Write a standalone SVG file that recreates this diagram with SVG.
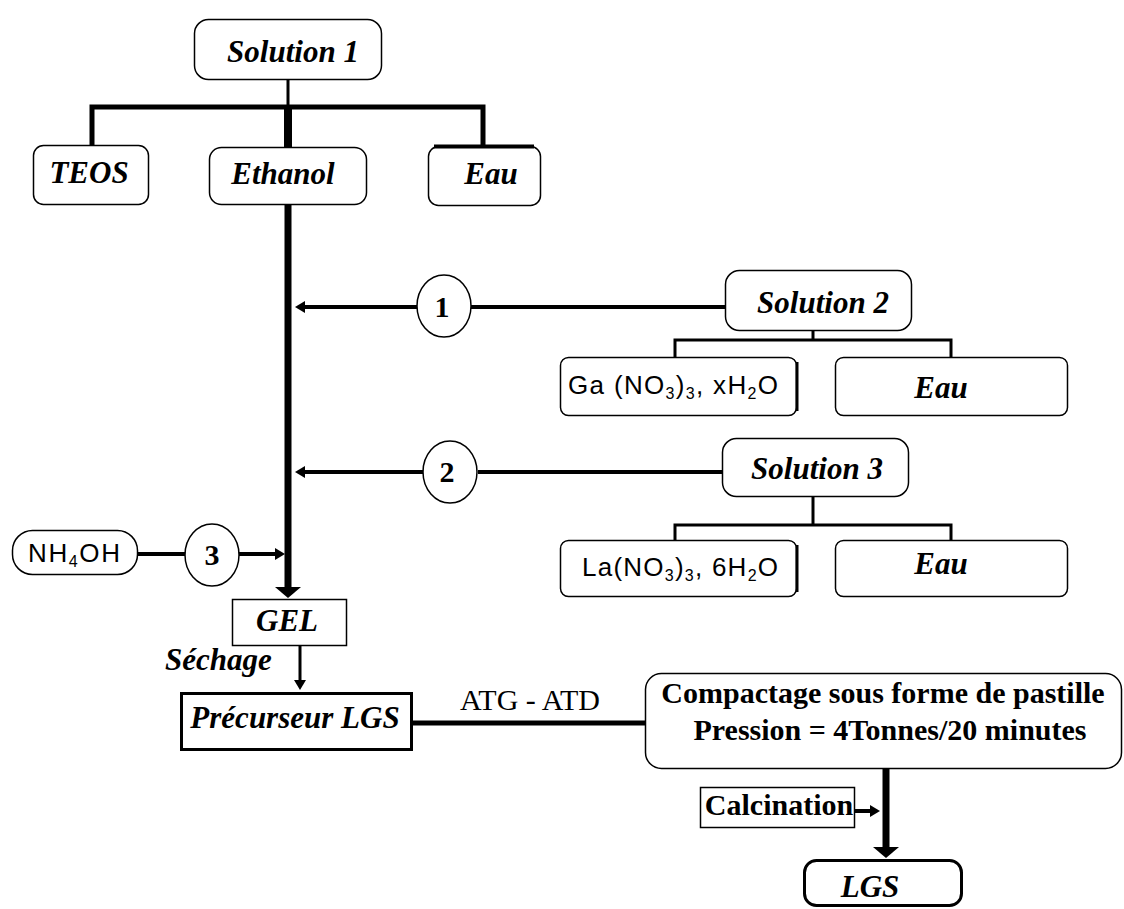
<svg xmlns="http://www.w3.org/2000/svg" width="1124" height="909" viewBox="0 0 1124 909">
<defs>
<style>
.box{fill:#fff;stroke:#000;stroke-width:1.5}
.tbox{fill:#fff;stroke:#000;stroke-width:3}
.it{font-family:"Liberation Serif","Times New Roman",serif;font-weight:bold;font-style:italic;font-size:31px;fill:#000}
.ser{font-family:"Liberation Serif","Times New Roman",serif;font-size:30px;fill:#000}
.serb{font-family:"Liberation Serif","Times New Roman",serif;font-weight:bold;font-size:30px;fill:#000}
.sans{font-family:"Liberation Sans",Arial,sans-serif;font-size:26px;fill:#000}
.sub{font-size:16px}
.ln{fill:none;stroke:#000;stroke-linecap:butt;stroke-linejoin:miter}
.circ{fill:#fff;stroke:#000;stroke-width:1.5}
</style>
<marker id="arS" viewBox="0 0 10 12" refX="0" refY="6" markerWidth="10" markerHeight="12" markerUnits="userSpaceOnUse" orient="auto"><path d="M0,0 L10,6 L0,12 z" fill="#000"/></marker>
<marker id="arL" viewBox="0 0 11 26" refX="0" refY="13" markerWidth="11" markerHeight="26" markerUnits="userSpaceOnUse" orient="auto"><path d="M0,0 L11,13 L0,26 z" fill="#000"/></marker>
</defs>
<rect width="1124" height="909" fill="#fff"/>

<g id="connectors">
<path class="ln" d="M288,79 V107" stroke-width="3"/>
<path class="ln" d="M92,145 V107 H483 V146" stroke-width="5"/>
<path class="ln" d="M288,107 V147" stroke-width="8"/>
<path class="ln" d="M288,204 V587" stroke-width="7" marker-end="url(#arL)"/>
<path class="ln" d="M417,307 H305" stroke-width="4" marker-end="url(#arS)"/>
<path class="ln" d="M471,307 H725" stroke-width="4"/>
<path class="ln" d="M423,472 H305" stroke-width="4" marker-end="url(#arS)"/>
<path class="ln" d="M478,472 H722" stroke-width="4"/>
<path class="ln" d="M813,331 V340" stroke-width="3"/>
<path class="ln" d="M675,357 V340 H951 V357" stroke-width="3"/>
<path class="ln" d="M813,497 V525" stroke-width="3"/>
<path class="ln" d="M675,540 V525 H951 V540" stroke-width="3"/>
<path class="ln" d="M138,554 H185" stroke-width="4"/>
<path class="ln" d="M239,554 H275" stroke-width="4" marker-end="url(#arS)"/>
<path class="ln" d="M300,646 V680" stroke-width="3" marker-end="url(#arS)"/>
<path class="ln" d="M413,723 H645" stroke-width="5"/>
<path class="ln" d="M886,769 V847" stroke-width="7" marker-end="url(#arL)"/>
<path class="ln" d="M855,811 H870" stroke-width="4" marker-end="url(#arS)"/>
</g>

<g id="solution1"><rect class="box" x="194.5" y="19.5" width="187" height="60" rx="14"/><text class="it" x="293" y="62" text-anchor="middle">Solution 1</text></g>
<g id="teos"><rect class="box" x="33.5" y="145.5" width="115" height="59" rx="10"/><text class="it" x="89" y="183" text-anchor="middle">TEOS</text></g>
<g id="ethanol"><rect class="box" x="209.5" y="147.5" width="157" height="57" rx="12"/><text class="it" x="283" y="184" text-anchor="middle">Ethanol</text></g>
<g id="eau1"><rect class="box" x="428.5" y="146.5" width="112" height="59" rx="10"/><path class="ln" d="M434,146.5 H534" stroke-width="4"/><text class="it" x="491" y="184" text-anchor="middle">Eau</text></g>

<g id="c1"><ellipse class="circ" cx="444" cy="306" rx="27" ry="31"/><text class="serb" x="442" y="317" text-anchor="middle">1</text></g>
<g id="c2"><ellipse class="circ" cx="450" cy="472" rx="27" ry="31"/><text class="serb" x="447" y="482" text-anchor="middle">2</text></g>
<g id="c3"><ellipse class="circ" cx="212" cy="555" rx="27" ry="31"/><text class="serb" x="212" y="565" text-anchor="middle">3</text></g>

<g id="solution2"><rect class="box" x="725.5" y="270.5" width="186" height="60" rx="14"/><text class="it" x="823" y="313" text-anchor="middle">Solution 2</text></g>
<g id="ga"><rect class="box" x="560.5" y="357.5" width="236" height="58" rx="8"/><path class="ln" d="M797,362 V411" stroke-width="3"/><text class="sans" x="568" y="394" textLength="210" lengthAdjust="spacing">Ga (NO<tspan class="sub" dy="5">3</tspan><tspan dy="-5">)</tspan><tspan class="sub" dy="5">3</tspan><tspan dy="-5">, xH</tspan><tspan class="sub" dy="5">2</tspan><tspan dy="-5">O</tspan></text></g>
<g id="eau2"><rect class="box" x="835.5" y="357.5" width="232" height="58" rx="8"/><text class="it" x="941" y="398" text-anchor="middle">Eau</text></g>

<g id="solution3"><rect class="box" x="722.5" y="438.5" width="186" height="58" rx="14"/><text class="it" x="817" y="479" text-anchor="middle">Solution 3</text></g>
<g id="la"><rect class="box" x="560.5" y="540.5" width="236" height="56" rx="8"/><path class="ln" d="M797,545 V592" stroke-width="3"/><text class="sans" x="582" y="576" textLength="196" lengthAdjust="spacing">La(NO<tspan class="sub" dy="5">3</tspan><tspan dy="-5">)</tspan><tspan class="sub" dy="5">3</tspan><tspan dy="-5">, 6H</tspan><tspan class="sub" dy="5">2</tspan><tspan dy="-5">O</tspan></text></g>
<g id="eau3"><rect class="box" x="835.5" y="540.5" width="232" height="56" rx="8"/><text class="it" x="941" y="574" text-anchor="middle">Eau</text></g>

<g id="nh4oh"><rect class="box" x="12.5" y="530.5" width="125" height="44" rx="20"/><text class="sans" x="28" y="562" textLength="92" lengthAdjust="spacing">NH<tspan class="sub" dy="5">4</tspan><tspan dy="-5">OH</tspan></text></g>

<g id="gel"><rect class="box" x="232.5" y="599.5" width="114" height="46"/><text class="it" x="287" y="631" text-anchor="middle">GEL</text></g>
<g id="sechage-label"><text class="it" x="165" y="670">Séchage</text></g>
<g id="precurseur"><rect class="tbox" x="181.5" y="693.5" width="230" height="56"/><text class="it" x="295" y="728" text-anchor="middle">Précurseur LGS</text></g>
<g id="atg-label"><text class="ser" x="530" y="710" text-anchor="middle">ATG - ATD</text></g>
<g id="compactage"><rect class="box" x="645.5" y="673.5" width="476" height="95" rx="16"/><text class="serb" x="883" y="703" text-anchor="middle">Compactage sous forme de pastille</text><text class="serb" x="890" y="740" text-anchor="middle">Pression = 4Tonnes/20 minutes</text></g>
<g id="calcination"><rect class="box" x="700.5" y="787.5" width="154" height="40"/><text class="serb" x="779" y="815" text-anchor="middle" font-size="28">Calcination</text></g>
<g id="lgs"><rect class="tbox" x="804.5" y="860.5" width="157" height="45" rx="12"/><text class="it" x="870" y="897" text-anchor="middle">LGS</text></g>
</svg>
